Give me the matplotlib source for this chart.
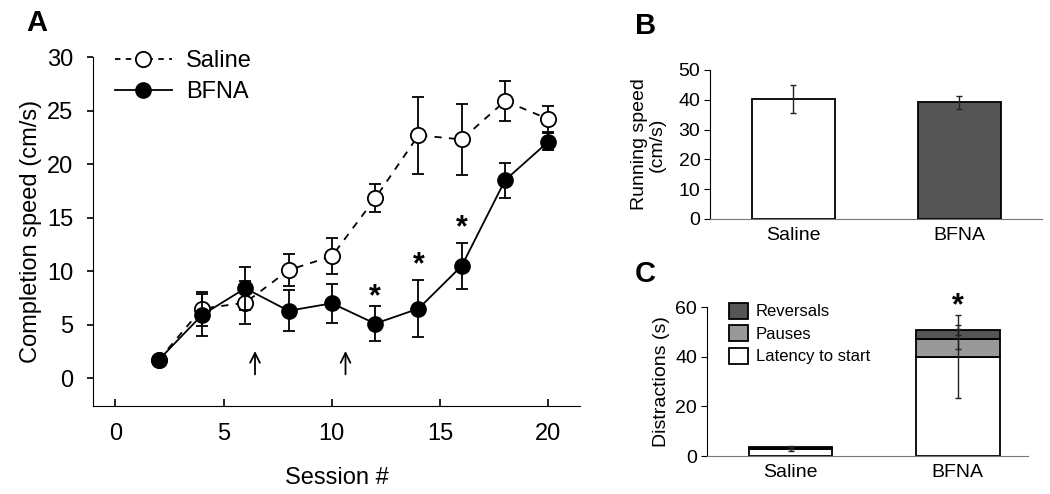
import matplotlib
matplotlib.use('Agg')
import matplotlib.pyplot as plt
from matplotlib.lines import Line2D
import numpy as np

plt.rcParams['font.family'] = ['Liberation Sans', 'DejaVu Sans']

# Панель A: скорость выполнения по сессиям
sessions = [2, 4, 6, 8, 10, 12, 14, 16, 18, 20]
saline_speed = [1.7, 6.5, 7.05, 10.1, 11.4, 16.8, 22.7, 22.3, 25.9, 24.2]
saline_err = [0.0, 1.6, 2.0, 1.5, 1.7, 1.3, 3.6, 3.3, 1.9, 1.2]
bfna_speed = [1.7, 5.9, 8.4, 6.3, 7.0, 5.1, 6.5, 10.5, 18.5, 22.1]
bfna_err = [0.3, 2.0, 2.0, 1.9, 1.8, 1.65, 2.65, 2.15, 1.65, 0.8]
star_sessions = [12, 14, 16]
star_heights = [7.6, 10.6, 14.0]
arrow_sessions = [6.45, 10.63]

# Панель B: скорость бега
groups = ['Saline', 'BFNA']
run_speed = [40.2, 39.2]
run_err = [4.7, 2.2]

# Панель C: отвлечения (стек)
latency = [2.7, 40.0]
latency_err = [0.8, 16.8]
pauses = [0.6, 7.0]
pauses_err = [0.3, 4.0]
reversals = [0.4, 3.7]
reversals_err = [0.2, 2.0]

fig = plt.figure(figsize=(10.5, 4.94), dpi=100)

# ---------- A ----------
axA = fig.add_axes([0.0886, 0.178, 0.4638, 0.7065])
axA.errorbar(sessions, saline_speed, yerr=saline_err, color='black', lw=1.3,
             dashes=(4, 4), marker='o', ms=11, mfc='white', mec='black', mew=1.3,
             ecolor='black', elinewidth=1.3, capsize=4, capthick=1.3, zorder=2)
axA.errorbar(sessions, bfna_speed, yerr=bfna_err, color='black', lw=1.3,
             marker='o', ms=11, mfc='black', mec='black',
             ecolor='black', elinewidth=1.3, capsize=4, capthick=1.3, zorder=3)
for s, h in zip(star_sessions, star_heights):
    axA.text(s, h, '*', ha='center', va='center', fontsize=22, fontweight='bold')
for s in arrow_sessions:
    axA.annotate('', xy=(s, 2.8), xytext=(s, 0.1),
                 arrowprops=dict(arrowstyle='->,head_length=0.7,head_width=0.35',
                                 lw=1.3, color='black'))

axA.set_xlim(-1.03, 21.46)
axA.set_ylim(-2.6, 30)
axA.set_xticks([0, 5, 10, 15, 20])
axA.set_yticks([0, 5, 10, 15, 20, 25, 30])
axA.spines['top'].set_visible(False)
axA.spines['right'].set_visible(False)
axA.tick_params(axis='x', direction='in', length=5, width=1.2, labelsize=17, pad=12)
axA.tick_params(axis='y', direction='out', length=4, width=1.2, labelsize=17, pad=10)
axA.set_xlabel('Session #', fontsize=17, labelpad=16)
axA.set_ylabel('Completion speed (cm/s)', fontsize=17, labelpad=4)

handles = [Line2D([], [], color='black', lw=1.3, dashes=(3, 3), marker='o', ms=11,
                  mfc='white', mec='black', mew=1.3),
           Line2D([], [], color='black', lw=1.3, marker='o', ms=11, mfc='black')]
axA.legend(handles, ['Saline', 'BFNA'], loc='upper left', bbox_to_anchor=(0.045, 1.02),
           frameon=False, fontsize=17, handlelength=2.4, handletextpad=0.6,
           labelspacing=0.37, borderpad=0, borderaxespad=0)

fig.text(0.035, 0.953, 'A', fontsize=21, fontweight='bold', ha='center', va='center')

# ---------- B ----------
axB = fig.add_axes([0.6762, 0.5567, 0.3162, 0.3016])
xb = np.arange(len(groups))
axB.bar(xb, run_speed, width=0.5, color=['white', '#555555'], edgecolor='black', lw=1.3)
axB.errorbar(xb, run_speed, yerr=run_err, fmt='none', ecolor='#222222', elinewidth=1,
             capsize=2.5, capthick=1)
axB.set_xlim(-0.5, 1.5)
axB.set_ylim(0, 50)
axB.set_yticks([0, 10, 20, 30, 40, 50])
axB.set_xticks(xb)
axB.set_xticklabels(groups)
axB.spines['top'].set_visible(False)
axB.spines['right'].set_visible(False)
axB.spines['bottom'].set_color('#777777')
axB.tick_params(axis='x', length=0, labelsize=14, pad=6)
axB.tick_params(axis='y', direction='out', length=4, labelsize=14, pad=3)
axB.set_ylabel('Running speed\n(cm/s)', fontsize=14, labelpad=9, linespacing=1.05)
fig.text(0.615, 0.947, 'B', fontsize=21, fontweight='bold', ha='center', va='center')

# ---------- C ----------
axC = fig.add_axes([0.6733, 0.0769, 0.3057, 0.3016])
xc = np.arange(len(groups))
bottom2 = np.array(latency)
bottom3 = bottom2 + np.array(pauses)
axC.bar(xc, latency, width=0.5, color='white', edgecolor='black', lw=1.3, label='Latency to start')
axC.bar(xc, pauses, width=0.5, bottom=bottom2, color='#999999', edgecolor='black', lw=1.3, label='Pauses')
axC.bar(xc, reversals, width=0.5, bottom=bottom3, color='#555555', edgecolor='black', lw=1.3, label='Reversals')
axC.errorbar(xc, latency, yerr=latency_err, fmt='none', ecolor='#222222', elinewidth=1, capsize=2.5, capthick=1)
axC.errorbar(xc, bottom3, yerr=pauses_err, fmt='none', ecolor='#222222', elinewidth=1, capsize=2.5, capthick=1)
axC.errorbar(xc, bottom3 + np.array(reversals), yerr=reversals_err, fmt='none', ecolor='#222222',
             elinewidth=1, capsize=2.5, capthick=1)
axC.text(1, 60.5, '*', ha='center', va='center', fontsize=22, fontweight='bold', clip_on=False)
axC.set_xlim(-0.5, 1.42)
axC.set_ylim(0, 60)
axC.set_yticks([0, 20, 40, 60])
axC.set_xticks(xc)
axC.set_xticklabels(groups)
axC.spines['top'].set_visible(False)
axC.spines['right'].set_visible(False)
axC.spines['bottom'].set_color('#777777')
axC.tick_params(axis='x', length=0, labelsize=14, pad=6)
axC.tick_params(axis='y', direction='out', length=4, labelsize=14, pad=3)
axC.set_ylabel('Distractions (s)', fontsize=14, labelpad=4)
hC, lC = axC.get_legend_handles_labels()
axC.legend(hC[::-1], lC[::-1], loc='upper left', bbox_to_anchor=(0.07, 1.03), frameon=False,
           fontsize=12, handlelength=1.1, handleheight=1.1, handletextpad=0.5,
           labelspacing=0.35, borderpad=0, borderaxespad=0)
fig.text(0.615, 0.445, 'C', fontsize=21, fontweight='bold', ha='center', va='center')

plt.savefig('out.png', dpi=100)
plt.close()
